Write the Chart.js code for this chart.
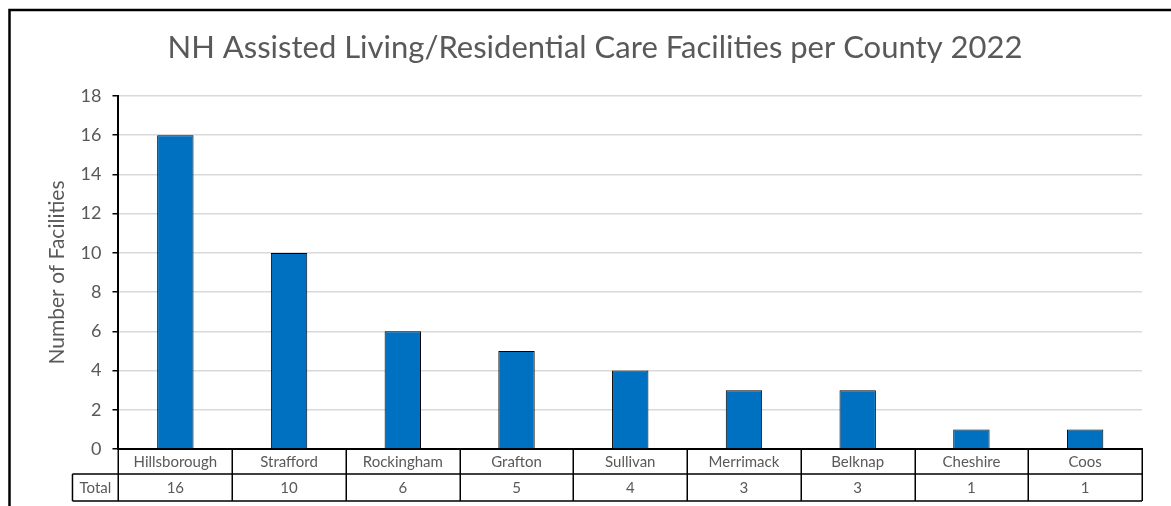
<!DOCTYPE html>
<html>
<head>
<meta charset="utf-8">
<script src="https://cdn.jsdelivr.net/npm/chart.js@4"></script>
<style>
  html, body { margin: 0; padding: 0; background: #fff; }
  #wrap { width: 1171px; height: 506px; position: relative; }
</style>
</head>
<body>
<div id="wrap"><canvas id="c" width="1171" height="506"></canvas></div>
<script>
const counties = ["Hillsborough", "Strafford", "Rockingham", "Grafton", "Sullivan", "Merrimack", "Belknap", "Cheshire", "Coos"];
const facilities = [16, 10, 6, 5, 4, 3, 3, 1, 1];
const seriesName = "Total";
const chartTitle = "NH Assisted Living/Residential Care Facilities per County 2022";
const yAxisTitle = "Number of Facilities";

const FONT = "Lato, 'Open Sans', sans-serif";
const GRAY = "#595959";

const framePlugin = {
  id: 'frame',
  beforeDraw(chart) {
    const ctx = chart.ctx;
    ctx.save();
    ctx.fillStyle = '#fff';
    ctx.fillRect(0, 0, chart.width, chart.height);
    ctx.strokeStyle = '#000';
    ctx.lineWidth = 2.5;
    ctx.strokeRect(9.5, 10, chart.width + 20, chart.height + 20);
    // chart title, centred on the full chart frame (which extends past the right edge)
    ctx.fillStyle = GRAY;
    ctx.font = "31px " + FONT;
    ctx.textAlign = 'center';
    ctx.textBaseline = 'middle';
    ctx.fillText(chartTitle, 595, 48);
    ctx.restore();
  }
};

const tablePlugin = {
  id: 'dataTable',
  afterDraw(chart) {
    const ctx = chart.ctx;
    const x = chart.scales.x;
    const area = chart.chartArea;
    const n = counties.length;
    const step = (area.right - area.left) / n;
    const top = area.bottom;
    const mid = top + 25;
    const bot = top + 52;
    const totalLeft = area.left - 46;
    ctx.save();
    ctx.strokeStyle = '#000';
    ctx.lineWidth = 1.5;
    ctx.beginPath();
    for (let i = 0; i <= n; i++) {
      const bx = Math.round(area.left + i * step) + 0.25;
      ctx.moveTo(bx, top);
      ctx.lineTo(bx, bot);
    }
    ctx.moveTo(totalLeft, mid); ctx.lineTo(area.right, mid);
    ctx.moveTo(totalLeft, bot); ctx.lineTo(area.right, bot);
    ctx.moveTo(totalLeft, mid); ctx.lineTo(totalLeft, bot);
    ctx.stroke();
    ctx.fillStyle = GRAY;
    ctx.font = "15px " + FONT;
    ctx.textAlign = 'center';
    ctx.textBaseline = 'middle';
    const rowY = (mid + bot) / 2 + 1;
    ctx.fillText(seriesName, (totalLeft + area.left) / 2, rowY);
    facilities.forEach((v, i) => {
      ctx.fillText(String(v), x.getPixelForValue(i), rowY);
    });
    ctx.restore();
  }
};

new Chart(document.getElementById('c'), {
  type: 'bar',
  data: {
    labels: counties,
    datasets: [{
      label: seriesName,
      data: facilities,
      backgroundColor: '#0070C0',
      borderColor: '#000',
      borderWidth: 1,
      categoryPercentage: 1.0,
      barPercentage: 0.32
    }]
  },
  options: {
    responsive: false,
    animation: false,
    devicePixelRatio: 1,
    layout: { padding: { left: 18, right: 29, top: 96, bottom: 31 } },
    plugins: {
      legend: { display: false },
      tooltip: { enabled: false },
      title: { display: false }
    },
    scales: {
      x: {
        grid: { display: false, drawTicks: false },
        border: { display: true, color: '#000', width: 2 },
        ticks: {
          color: GRAY,
          font: { family: FONT, size: 15 },
          padding: 4,
          maxRotation: 0,
          autoSkip: false
        }
      },
      y: {
        min: 0,
        max: 18,
        ticks: {
          stepSize: 2,
          color: GRAY,
          font: { family: FONT, size: 18 },
          padding: 11
        },
        grid: {
          color: '#d9d9d9',
          lineWidth: 1.5,
          tickColor: '#000',
          tickLength: 6,
          drawTicks: true
        },
        border: { display: true, color: '#000', width: 2 },
        title: {
          display: true,
          text: yAxisTitle,
          color: GRAY,
          font: { family: FONT, size: 21 },
          padding: { top: 26.4, bottom: 0 }
        }
      }
    }
  },
  plugins: [framePlugin, tablePlugin]
});
</script>
</body>
</html>
